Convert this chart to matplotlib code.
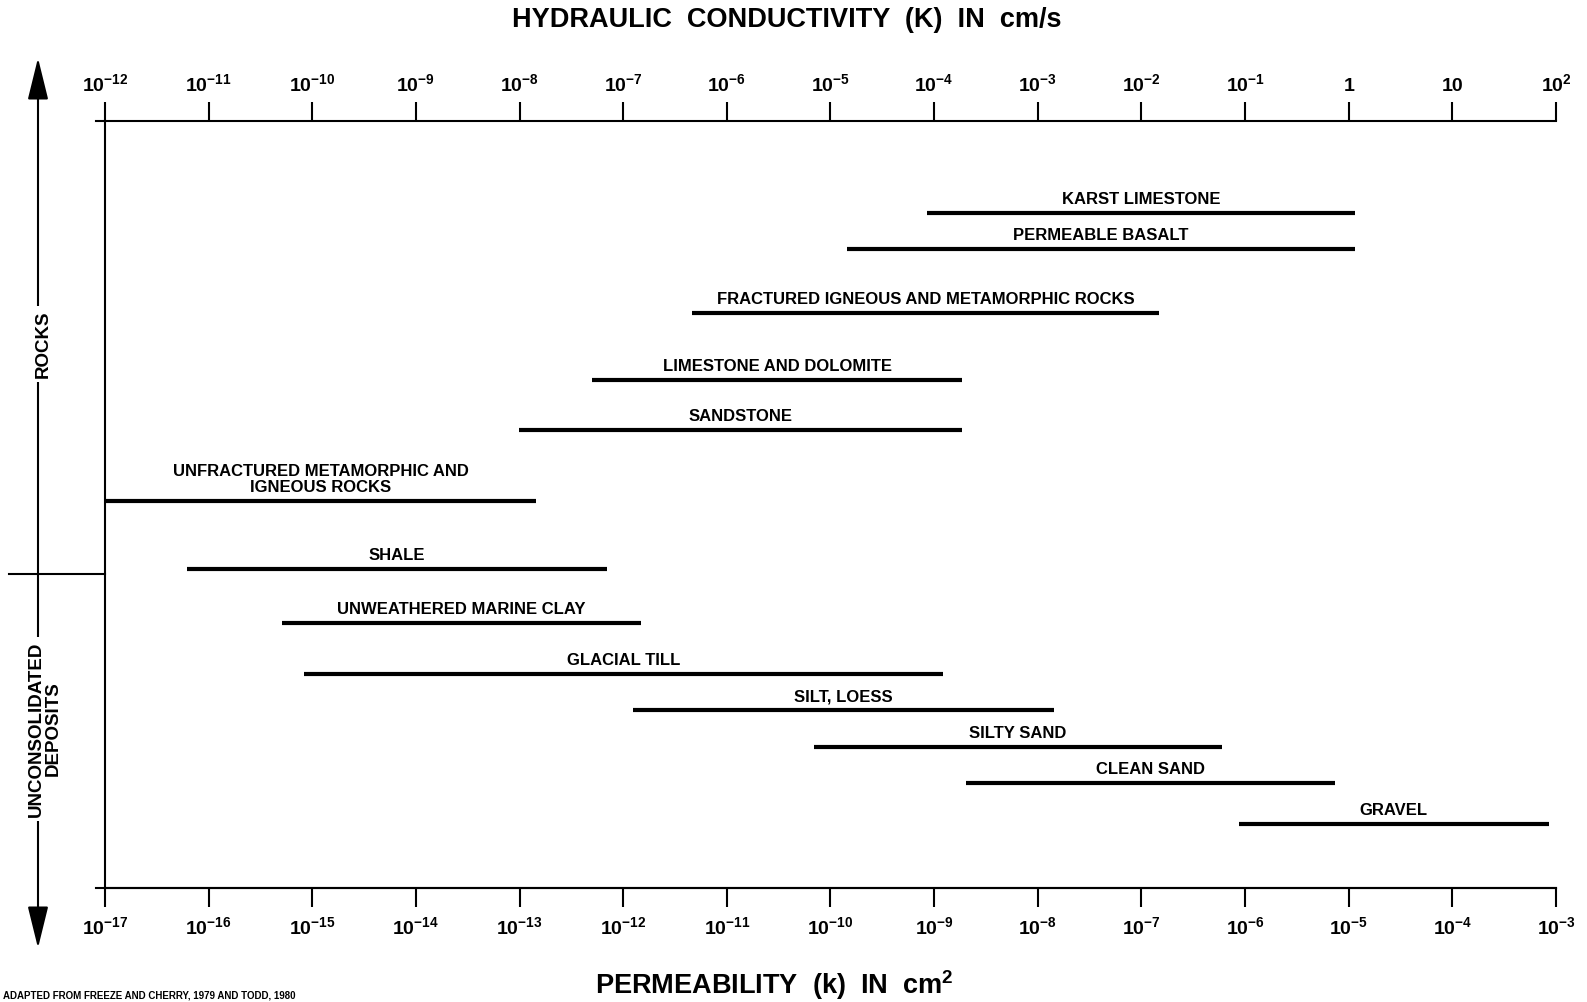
# Range of hydraulic conductivity / permeability for rocks and unconsolidated deposits.
import numpy as np
import matplotlib.pyplot as plt
from matplotlib.lines import Line2D
from matplotlib.ticker import NullLocator

plt.rcParams['font.family'] = 'Liberation Sans'
plt.rcParams['font.weight'] = 'bold'
plt.rcParams['mathtext.fontset'] = 'custom'
plt.rcParams['mathtext.rm'] = 'Liberation Sans:bold'
plt.rcParams['mathtext.it'] = 'Liberation Sans:bold'
plt.rcParams['mathtext.bf'] = 'Liberation Sans:bold'

# Data: log10 of hydraulic conductivity K (cm/s), lower and upper ends of each range.
materials = ['KARST LIMESTONE', 'PERMEABLE BASALT', 'FRACTURED IGNEOUS AND METAMORPHIC ROCKS',
             'LIMESTONE AND DOLOMITE', 'SANDSTONE', 'UNFRACTURED METAMORPHIC AND\nIGNEOUS ROCKS',
             'SHALE', 'UNWEATHERED MARINE CLAY', 'GLACIAL TILL', 'SILT, LOESS',
             'SILTY SAND', 'CLEAN SAND', 'GRAVEL']
log_K_low = [-4.07, -4.84, -6.34, -7.30, -8.01, -12.0, -11.21, -10.29, -10.08, -6.91, -5.16, -3.69, -1.06]
log_K_high = [0.06, 0.06, -1.83, -3.73, -3.73, -7.84, -7.16, -6.83, -3.91, -2.84, -1.22, -0.13, 1.93]

# Tick labels.
K_tick_exp = list(range(-12, 3))
K_tick_labels = [r'$10^{-12}$', r'$10^{-11}$', r'$10^{-10}$', r'$10^{-9}$', r'$10^{-8}$',
                 r'$10^{-7}$', r'$10^{-6}$', r'$10^{-5}$', r'$10^{-4}$', r'$10^{-3}$',
                 r'$10^{-2}$', r'$10^{-1}$', '1', '10', r'$10^{2}$']
perm_tick_exp = list(range(-17, -2))
perm_tick_labels = [r'$10^{-17}$', r'$10^{-16}$', r'$10^{-15}$', r'$10^{-14}$', r'$10^{-13}$',
                    r'$10^{-12}$', r'$10^{-11}$', r'$10^{-10}$', r'$10^{-9}$', r'$10^{-8}$',
                    r'$10^{-7}$', r'$10^{-6}$', r'$10^{-5}$', r'$10^{-4}$', r'$10^{-3}$']

# k (cm^2) = K (cm/s) * 1e-5 for water.
K_to_k = 1e-5

# Layout: figure pixels (from the top) for each row and the axis frame.
W, H = 1587, 1002
row_y = [213, 249, 313, 380, 430, 501, 569, 623, 674, 710, 747, 783, 824]
ax_left, ax_right, ax_top, ax_bottom = 105, 1556, 121, 888

fig = plt.figure(figsize=(W / 100, H / 100), dpi=100)
ax = fig.add_axes([ax_left / W, 1 - ax_bottom / H, (ax_right - ax_left) / W, (ax_bottom - ax_top) / H])

ax.set_xscale('log')
ax.set_xlim(1e-12, 1e2)
ax.set_ylim(ax_bottom, ax_top)
ax.set_yticks([])

# Top axis: hydraulic conductivity.
ax.xaxis.set_ticks_position('top')
ax.set_xticks(10.0 ** np.array(K_tick_exp))
ax.set_xticklabels(K_tick_labels)
ax.xaxis.set_minor_locator(NullLocator())
ax.tick_params(axis='x', direction='out', length=14, width=1.5, pad=5, labelsize=14)

# Bottom axis: permeability.
sec = ax.secondary_xaxis('bottom', functions=(lambda x: x * K_to_k, lambda x: x / K_to_k))
sec.set_xticks(10.0 ** np.array(perm_tick_exp))
sec.set_xticklabels(perm_tick_labels)
sec.xaxis.set_minor_locator(NullLocator())
sec.tick_params(axis='x', direction='out', length=14, width=1.5, pad=6, labelsize=14)
sec.spines['bottom'].set_linewidth(1.5)

ax.spines['right'].set_visible(False)
for s in ['top', 'bottom', 'left']:
    ax.spines[s].set_linewidth(1.5)

# Short overhang of the axis lines past the left edge.
ax.plot([-0.006, 0], [1, 1], transform=ax.transAxes, color='black', lw=1.5, clip_on=False)
ax.plot([-0.006, 0], [0, 0], transform=ax.transAxes, color='black', lw=1.5, clip_on=False)

# Ranges.
lo = 10.0 ** np.array(log_K_low)
hi = 10.0 ** np.array(log_K_high)
ax.hlines(row_y, lo, hi, color='black', lw=3)
for name, a, b, y in zip(materials, log_K_low, log_K_high, row_y):
    ax.annotate(name, (10.0 ** ((a + b) / 2), y), xytext=(0, 4), textcoords='offset points',
                ha='center', va='bottom', fontsize=12, fontweight='bold', linespacing=1.1)

# Left side group markers.
def fig_px(x, y):
    return (x, H - y)

arrow = dict(arrowstyle='-|>,head_length=1.3,head_width=0.32', lw=1.5, color='black',
             mutation_scale=20, shrinkA=0, shrinkB=0)
ax.annotate('', xy=fig_px(38, 58), xytext=fig_px(38, 574), xycoords='figure pixels', arrowprops=arrow)
ax.annotate('', xy=fig_px(38, 948), xytext=fig_px(38, 574), xycoords='figure pixels', arrowprops=arrow)
fig.add_artist(Line2D([9 / W, ax_left / W], [1 - 574 / H] * 2, transform=fig.transFigure,
                      color='black', lw=1.5))

fig.text(43 / W, 1 - 344 / H, 'ROCKS', rotation=90, ha='center', va='center', fontsize=13.5,
         bbox=dict(fc='white', ec='none', pad=3))
fig.text(45 / W, 1 - 729 / H, 'UNCONSOLIDATED\nDEPOSITS', rotation=90, ha='center', va='center',
         multialignment='center', fontsize=13.5, linespacing=1.0,
         bbox=dict(fc='white', ec='none', pad=3))

# Titles.
fig.text(787 / W, 1 - 20 / H, 'HYDRAULIC  CONDUCTIVITY  (K)  IN  cm/s', ha='center', va='center',
         fontsize=19.5)
fig.text(774 / W, 1 - 985 / H, r'PERMEABILITY  (k)  IN  cm$^{2}$', ha='center', va='center',
         fontsize=19.5)
fig.text(3 / W, 2 / H, 'ADAPTED FROM FREEZE AND CHERRY, 1979 AND TODD, 1980', ha='left',
         va='bottom', fontsize=7)

fig.savefig('out.png', dpi=100)
